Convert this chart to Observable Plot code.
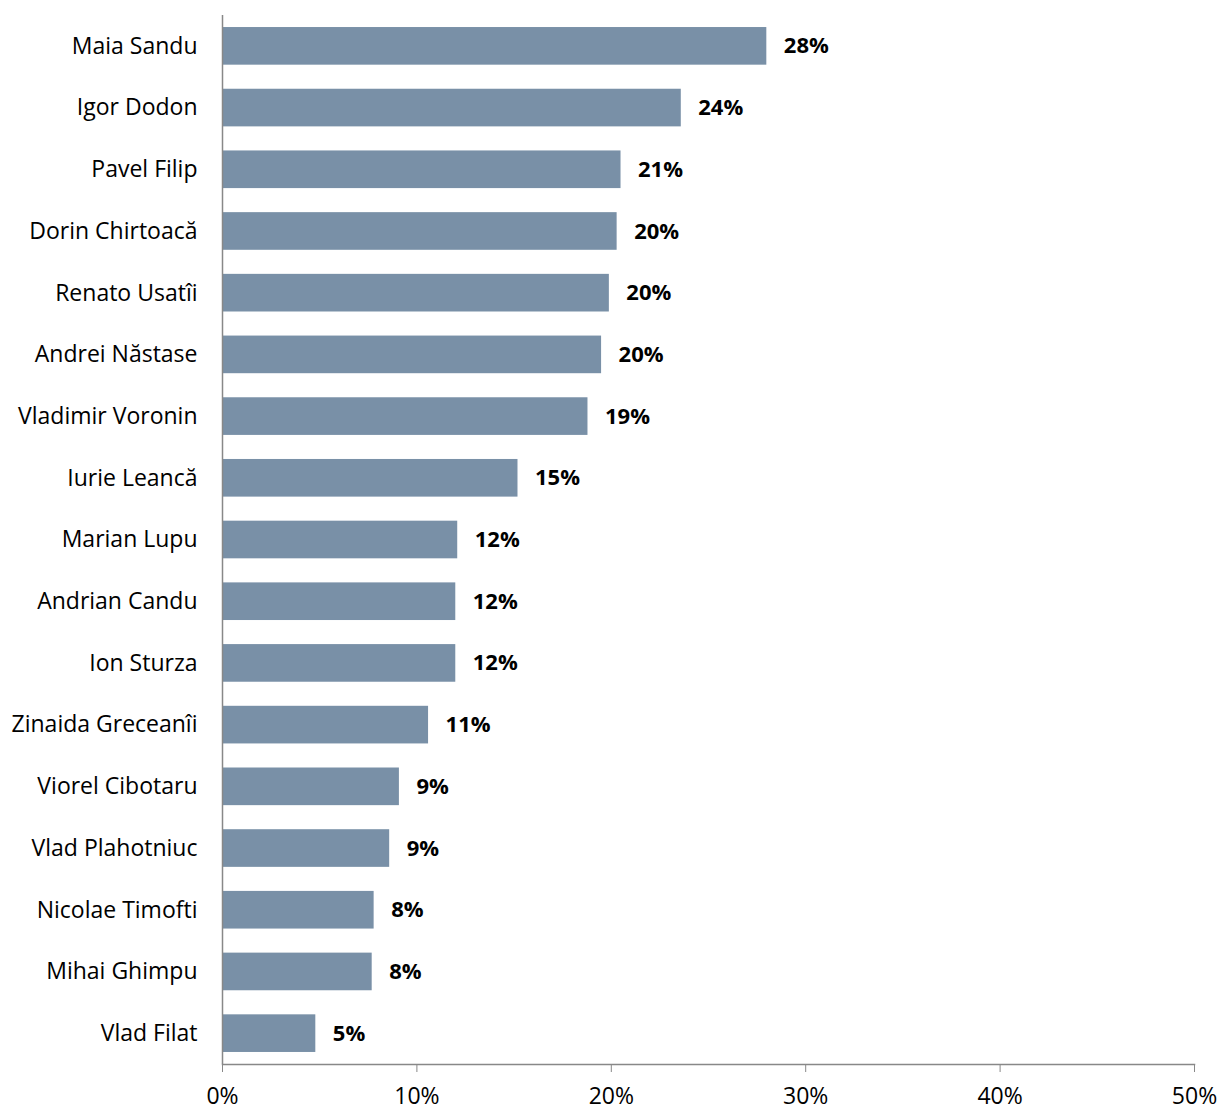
<!DOCTYPE html>
<html>
<head>
<meta charset="utf-8">
<script src="https://cdn.jsdelivr.net/npm/d3@7"></script>
<script src="https://cdn.jsdelivr.net/npm/@observablehq/plot@0.6"></script>
<style>
  html, body { margin: 0; padding: 0; background: #fff; }
  #chart svg { display: block; }
</style>
</head>
<body>
<div id="chart"></div>
<script>
const names = [
  "Maia Sandu", "Igor Dodon", "Pavel Filip", "Dorin Chirtoacă", "Renato Usatîi",
  "Andrei Năstase", "Vladimir Voronin", "Iurie Leancă", "Marian Lupu", "Andrian Candu",
  "Ion Sturza", "Zinaida Greceanîi", "Viorel Cibotaru", "Vlad Plahotniuc",
  "Nicolae Timofti", "Mihai Ghimpu", "Vlad Filat"
];
const values = [28.0, 23.6, 20.5, 20.3, 19.9, 19.5, 18.8, 15.2, 12.1, 12.0, 12.0, 10.6, 9.1, 8.6, 7.8, 7.7, 4.8];
const labels = ["28%", "24%", "21%", "20%", "20%", "20%", "19%", "15%", "12%", "12%", "12%", "11%", "9%", "9%", "8%", "8%", "5%"];
const xTicks = [0, 10, 20, 30, 40, 50];

const data = names.map((name, i) => ({name, value: values[i], label: labels[i]}));

const FONT = "'Open Sans', sans-serif";
const AXIS = "#888888";

const chart = Plot.plot({
  width: 1219,
  height: 1110,
  marginLeft: 222,
  marginRight: 25,
  marginTop: 15,
  marginBottom: 46,
  style: {fontFamily: FONT, fontSize: "23px", color: "#000", background: "#fff"},
  x: {domain: [0, 50]},
  y: {domain: names, paddingInner: 0.39, paddingOuter: 0.195, align: 0.5, round: false},
  marks: [
    Plot.barX(data, {y: "name", x: "value", fill: "#7990A7"}),
    Plot.text(data, {y: "name", x: "value", text: "label", textAnchor: "start", dx: 17,
      fontWeight: "bold", fontSize: 22, fill: "#000"}),
    Plot.axisY({tickSize: 0, tickPadding: 25, fontSize: 23, label: null}),
    Plot.axisX({ticks: xTicks, tickFormat: d => d + "%", tickSize: 8, stroke: AXIS,
      tickPadding: 15, fontSize: 23, label: null}),
    Plot.ruleX([0], {stroke: AXIS, strokeWidth: 1.5}),
    Plot.frame({anchor: "bottom", stroke: AXIS, strokeWidth: 1.5})
  ]
});
chart.querySelectorAll("text").forEach(t => t.setAttribute("fill", "#000"));
document.getElementById("chart").appendChild(chart);
</script>
</body>
</html>
